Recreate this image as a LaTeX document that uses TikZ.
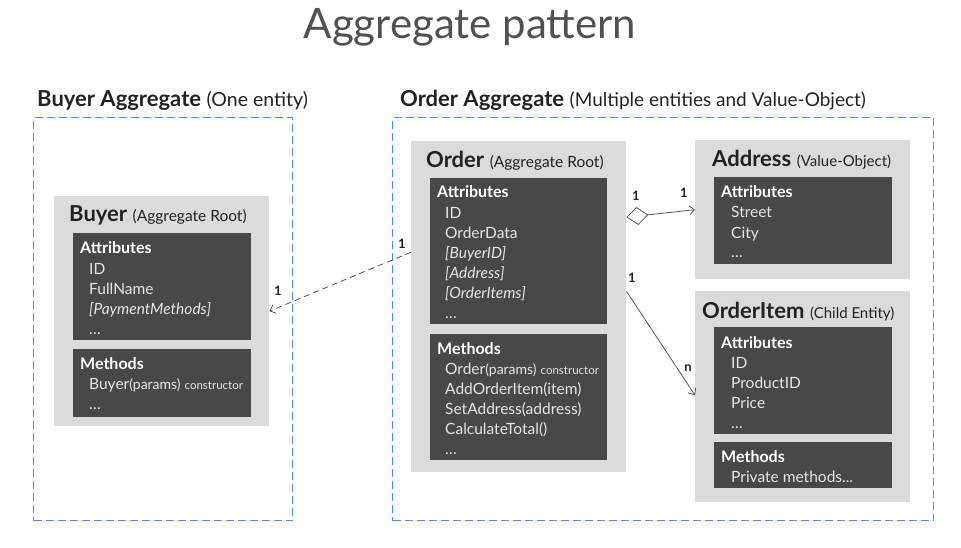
\documentclass[tikz,border=0pt]{standalone}
\usepackage{fontspec}
\setmainfont{Lato}
\usetikzlibrary{arrows.meta}

\definecolor{zoneblue}{RGB}{72,142,238}
\definecolor{entitygray}{RGB}{219,219,219}
\definecolor{memberdark}{RGB}{72,72,72}
\definecolor{inkgray}{RGB}{34,34,34}
\definecolor{titlegray}{RGB}{80,80,80}
\definecolor{linegray}{RGB}{85,85,85}

\newcommand{\parmtxt}[1]{{\fontsize{14}{20}\selectfont #1}}
\newcommand{\ctortxt}[1]{{\fontsize{11.5}{20}\selectfont #1}}

\tikzset{
  zone/.style={draw=zoneblue, line width=1.4pt, dash pattern=on 8pt off 4pt, anchor=north west, inner sep=0pt},
  entity/.style={fill=entitygray, anchor=north west, inner sep=0pt},
  member/.style={fill=memberdark, anchor=north west, inner sep=0pt},
  zonelabel/.style={anchor=base west, inner sep=0pt, text=inkgray, font=\fontsize{22}{24}\selectfont},
  entitylabel/.style={anchor=base west, inner sep=0pt, text=inkgray, font=\fontsize{22}{24}\selectfont},
  memhead/.style={anchor=base west, inner sep=0pt, text=white, font=\bfseries\fontsize{16}{20}\selectfont},
  % anchored at the baseline of the last line
  memitems/.style={anchor=base west, inner sep=0pt, text=white!90!black, align=left, font=\fontsize{15.5}{20}\selectfont},
  mult/.style={inner sep=0pt, text=inkgray, font=\bfseries\fontsize{13}{15}\selectfont},
  link/.style={draw=linegray, line width=0.8pt, -{Straight Barb[length=5pt,width=9pt]}},
}

\begin{document}
\begin{tikzpicture}[x=1pt,y=-1pt]
\useasboundingbox (0,0) rectangle (961,548);
%
\node[anchor=base, inner sep=0pt, text=titlegray, font=\fontsize{42}{48}\selectfont] (title) at (470,39) {Aggregate pattern};
%
% Buyer aggregate
\node[zone, minimum width=259pt, minimum height=403pt] (buyerzone) at (33,117) {};
\node[zonelabel] (buyerzonelabel) at (37,107) {\textbf{Buyer Aggregate} {\fontsize{19.5}{22}\selectfont (One entity)}};
%
\node[entity, minimum width=215pt, minimum height=230pt] (buyer) at (54,196) {};
\node[entitylabel] (buyerlabel) at (69,222) {\textbf{Buyer} {\fontsize{15.5}{18}\selectfont (Aggregate Root)}};
\node[member, minimum width=178pt, minimum height=107pt] (buyerattr) at (73,233) {};
\node[memhead] (buyerattrhead) at (80,254) {Attributes};
\node[memitems] (buyerattritems) at (89,334) {ID\\FullName\\\textit{[PaymentMethods]}\\\dots};
\node[member, minimum width=178pt, minimum height=68pt] (buyermeth) at (73,349) {};
\node[memhead] (buyermethhead) at (80,369) {Methods};
\node[memitems] (buyermethitems) at (89,409) {Buyer\parmtxt{(params)} \ctortxt{constructor}\\\dots};
%
% Order aggregate
\node[zone, minimum width=541pt, minimum height=403pt] (orderzone) at (392,117) {};
\node[zonelabel] (orderzonelabel) at (400,107) {\textbf{Order Aggregate} {\fontsize{19}{22}\selectfont (Multiple entities and Value-Object)}};
%
\node[entity, minimum width=215pt, minimum height=331pt] (order) at (411,141) {};
\node[entitylabel] (orderlabel) at (426,168) {\textbf{Order} {\fontsize{15.5}{18}\selectfont (Aggregate Root)}};
\node[member, minimum width=177pt, minimum height=146pt] (orderattr) at (430,178) {};
\node[memhead] (orderattrhead) at (437,198) {Attributes};
\node[memitems] (orderattritems) at (445,318) {ID\\OrderData\\\textit{[BuyerID]}\\\textit{[Address]}\\\textit{[OrderItems]}\\\dots};
\node[member, minimum width=177pt, minimum height=126pt] (ordermeth) at (430,334) {};
\node[memhead] (ordermethhead) at (437,354) {Methods};
\node[memitems] (ordermethitems) at (445,454) {Order\parmtxt{(params)} \ctortxt{constructor}\\AddOrderItem(item)\\SetAddress(address)\\CalculateTotal()\\\dots};
%
\node[entity, minimum width=215pt, minimum height=139pt] (address) at (695,140) {};
\node[entitylabel] (addresslabel) at (712,167) {\textbf{Address} {\fontsize{15}{18}\selectfont (Value-Object)}};
\node[member, minimum width=178pt, minimum height=87pt] (addressattr) at (714,177) {};
\node[memhead] (addressattrhead) at (721,198) {Attributes};
\node[memitems] (addressattritems) at (731,258) {Street\\City\\\dots};
%
\node[entity, minimum width=215pt, minimum height=211pt] (orderitem) at (695,291) {};
\node[entitylabel] (orderitemlabel) at (702,318) {\textbf{OrderItem} {\fontsize{15}{18}\selectfont (Child Entity)}};
\node[member, minimum width=178pt, minimum height=107pt] (orderitemattr) at (714,327) {};
\node[memhead] (orderitemattrhead) at (721,348) {Attributes};
\node[memitems] (orderitemattritems) at (731,428) {ID\\ProductID\\Price\\\dots};
\node[member, minimum width=178pt, minimum height=46pt] (orderitemmeth) at (714,442) {};
\node[memhead] (orderitemmethhead) at (721,462) {Methods};
\node[memitems] (orderitemmethitems) at (731,482) {Private methods...};
%
% relations
\draw[link, dash pattern=on 6pt off 4pt] ([yshift=54.5pt]order.west) -- (buyer.east);
\node[mult] (buyerfrom) at (402,244) {1};
\node[mult] (buyerto) at (278,291) {1};
%
\draw[link, {Diamond[open, fill=white, length=22pt, width=18pt]}-{Straight Barb[length=5pt,width=9pt]}] ([yshift=89.5pt]order.east) -- (address.west);
\node[mult] (addressfrom) at (636,196) {1};
\node[mult] (addressto) at (684,193) {1};
%
\draw[link] ([yshift=15.5pt]order.east) -- ([yshift=1.5pt]orderitem.west);
\node[mult] (itemfrom) at (632,278) {1};
\node[mult] (itemto) at (688,368) {n};
\end{tikzpicture}
\end{document}
